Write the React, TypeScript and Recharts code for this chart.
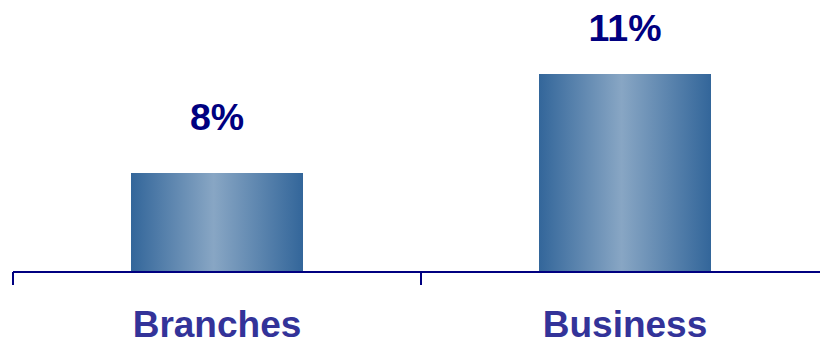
import React from 'react';
import { BarChart, Bar, XAxis, YAxis, LabelList } from 'recharts';

const categories = ['Branches', 'Business'];
const growth = [8, 11];
const valueLabels = ['8%', '11%'];

const data = categories.map((name, i) => ({ name, growth: growth[i], label: valueLabels[i] }));

const CHART_W = 840;
const MARGIN = { top: 8, right: 11, bottom: 0, left: 13 };
const BAND = (CHART_W - MARGIN.left - MARGIN.right) / categories.length;
const NAVY = '#000080';
const FONT = '"Liberation Sans", Arial, Helvetica, sans-serif';

function CategoryTick({ x, y, payload, index }: any) {
  const axisY = y - 8;
  const left = x - BAND / 2;
  return (
    <g>
      <line x1={left} y1={axisY} x2={left} y2={axisY + 13} stroke={NAVY} strokeWidth={2} />
      {index === categories.length - 1 && (
        <line x1={x + BAND / 2} y1={axisY} x2={x + BAND / 2} y2={axisY + 13} stroke={NAVY} strokeWidth={2} />
      )}
      <text
        x={x}
        y={axisY + 65}
        textAnchor="middle"
        fill="#333399"
        fontSize={37}
        fontWeight="bold"
        fontFamily={FONT}
      >
        {payload.value}
      </text>
    </g>
  );
}

// taller bars get their label pulled a little closer
function ValueLabel({ x, y, width, height, value }: any) {
  const gap = 53 - 0.1 * height;
  return (
    <text
      x={x + width / 2}
      y={y - gap}
      textAnchor="middle"
      fill={NAVY}
      fontSize={37.5}
      fontWeight="bold"
      fontFamily={FONT}
    >
      {value}
    </text>
  );
}

export default function App() {
  return (
    <div style={{ position: 'absolute', left: 0, top: 0, width: 820, height: 345, overflow: 'hidden', background: '#fff' }}>
      <BarChart width={CHART_W} height={345} data={data} margin={MARGIN}>
        <defs>
          <linearGradient id="barShade" x1="0" y1="0" x2="1" y2="0">
            <stop offset="0%" stopColor="#33669a" />
            <stop offset="48%" stopColor="#88a6c4" />
            <stop offset="100%" stopColor="#33669a" />
          </linearGradient>
        </defs>
        <YAxis hide domain={[5, 13]} allowDataOverflow />
        <XAxis
          dataKey="name"
          height={73}
          axisLine={{ stroke: NAVY, strokeWidth: 2 }}
          tickLine={false}
          tick={<CategoryTick />}
          interval={0}
        />
        <Bar dataKey="growth" fill="url(#barShade)" barSize={172} isAnimationActive={false}>
          <LabelList dataKey="label" content={<ValueLabel />} />
        </Bar>
      </BarChart>
    </div>
  );
}
